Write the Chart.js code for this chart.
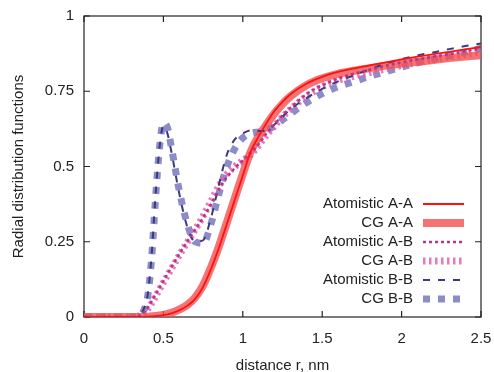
<!DOCTYPE html>
<html>
<head>
<meta charset="utf-8">
<script src="https://cdn.jsdelivr.net/npm/chart.js@4.4.1/dist/chart.umd.min.js"></script>
<style>
  body { margin: 0; background: #fff; }
</style>
</head>
<body>
<canvas id="rdf" width="494" height="372"></canvas>
<script>
// tick positions on both axes
var xTicks = [0, 0.5, 1, 1.5, 2, 2.5];
var yTicks = [0, 0.25, 0.5, 0.75, 1];

// distance grid for A-A and A-B pairs (nm)
var rA = [0, 0.1, 0.2, 0.3, 0.35, 0.4, 0.45, 0.5, 0.55, 0.6, 0.65, 0.7, 0.75, 0.8, 0.85, 0.9, 0.95, 1.0,
          1.05, 1.1, 1.15, 1.2, 1.25, 1.3, 1.4, 1.5, 1.6, 1.7, 1.8, 1.9, 2.0, 2.1, 2.2, 2.3, 2.4, 2.5];
var atomAA = [0, 0, 0, 0, 0, 0.001, 0.003, 0.006, 0.012, 0.022, 0.037, 0.06, 0.1, 0.16, 0.23, 0.31, 0.39, 0.47,
              0.55, 0.6, 0.645, 0.685, 0.715, 0.74, 0.775, 0.798, 0.814, 0.826, 0.836, 0.846, 0.856, 0.865, 0.873, 0.881, 0.889, 0.897];
var cgAA = [0, 0, 0, 0, 0, 0.001, 0.003, 0.007, 0.014, 0.025, 0.04, 0.065, 0.105, 0.165, 0.235, 0.315, 0.395, 0.475,
            0.55, 0.6, 0.64, 0.677, 0.708, 0.733, 0.77, 0.793, 0.808, 0.818, 0.827, 0.835, 0.842, 0.848, 0.854, 0.86, 0.865, 0.87];
var atomAB = [0, 0, 0, 0, 0.005, 0.03, 0.075, 0.12, 0.165, 0.21, 0.25, 0.29, 0.33, 0.375, 0.425, 0.465, 0.495, 0.52,
              0.545, 0.575, 0.61, 0.64, 0.67, 0.695, 0.74, 0.77, 0.792, 0.808, 0.822, 0.835, 0.846, 0.856, 0.865, 0.874, 0.883, 0.892];
var cgAB = [0, 0, 0, 0, 0.004, 0.025, 0.068, 0.115, 0.16, 0.205, 0.248, 0.29, 0.335, 0.385, 0.435, 0.475, 0.5, 0.52,
            0.54, 0.57, 0.605, 0.635, 0.665, 0.69, 0.733, 0.765, 0.786, 0.8, 0.812, 0.824, 0.835, 0.845, 0.855, 0.864, 0.872, 0.88];

// finer grid for B-B around the first peak
var rB = [0, 0.1, 0.2, 0.3, 0.35, 0.375, 0.4, 0.425, 0.45, 0.475, 0.5, 0.525, 0.55, 0.6, 0.65, 0.7, 0.75, 0.8, 0.85,
          0.9, 0.95, 1.0, 1.05, 1.1, 1.15, 1.2, 1.3, 1.4, 1.5, 1.6, 1.7, 1.8, 1.9, 2.0, 2.1, 2.2, 2.3, 2.4, 2.5];
var atomBB = [0, 0, 0, 0, 0.005, 0.025, 0.07, 0.2, 0.4, 0.56, 0.635, 0.61, 0.55, 0.41, 0.3, 0.25, 0.255, 0.33, 0.44,
              0.54, 0.59, 0.61, 0.62, 0.618, 0.62, 0.64, 0.69, 0.727, 0.758, 0.783, 0.803, 0.823, 0.842, 0.857, 0.869, 0.879, 0.89, 0.9, 0.909];
var cgBB = [0, 0, 0, 0, 0.004, 0.02, 0.065, 0.19, 0.39, 0.56, 0.645, 0.63, 0.565, 0.42, 0.31, 0.25, 0.245, 0.31, 0.41,
            0.5, 0.56, 0.595, 0.61, 0.615, 0.62, 0.635, 0.675, 0.712, 0.742, 0.765, 0.782, 0.8, 0.815, 0.83, 0.845, 0.857, 0.868, 0.88, 0.893];

var FONT = "'Liberation Sans', Arial, Helvetica, sans-serif";

function pts(xs, ys) {
    return xs.map(function (x, i) { return {x: x, y: ys[i]}; });
}

function series(label, xs, ys, color, width, dash, order) {
    return {
        label: label,
        data: pts(xs, ys),
        borderColor: color,
        borderWidth: width,
        borderDash: dash,
        pointRadius: 0,
        fill: false,
        cubicInterpolationMode: 'monotone',
        order: order
    };
}

// box round the plot with inward ticks on all four sides
var framePlugin = {
    id: 'frame',
    beforeDatasetsDraw: function (chart) {
        var c = chart.ctx, a = chart.chartArea;
        var xs = chart.scales.x, ys = chart.scales.y;
        var len = 6;
        c.save();
        c.strokeStyle = '#222';
        c.lineWidth = 1.2;
        c.strokeRect(a.left, a.top, a.right - a.left, a.bottom - a.top);
        c.beginPath();
        xTicks.forEach(function (v) {
            var px = xs.getPixelForValue(v);
            c.moveTo(px, a.bottom); c.lineTo(px, a.bottom - len);
            c.moveTo(px, a.top); c.lineTo(px, a.top + len);
        });
        yTicks.forEach(function (v) {
            var py = ys.getPixelForValue(v);
            c.moveTo(a.left, py); c.lineTo(a.left + len, py);
            c.moveTo(a.right, py); c.lineTo(a.right - len, py);
        });
        c.stroke();
        c.restore();
    }
};

// key in the lower right corner, label then line sample
var keyPlugin = {
    id: 'key',
    afterDraw: function (chart) {
        var c = chart.ctx, a = chart.chartArea;
        var textRight = a.right - 68, x0 = a.right - 58, x1 = a.right - 17;
        var y = a.bottom - 113, step = 19;
        c.save();
        c.font = '15px ' + FONT;
        c.textAlign = 'right';
        c.textBaseline = 'middle';
        chart.data.datasets.forEach(function (ds, i) {
            var yy = y + i * step;
            c.fillStyle = '#222';
            c.fillText(ds.label, textRight, yy);
            c.strokeStyle = ds.borderColor;
            c.lineWidth = ds.borderWidth;
            c.setLineDash(ds.borderDash || []);
            c.lineCap = 'butt';
            c.beginPath();
            c.moveTo(x0, yy);
            c.lineTo(x1, yy);
            c.stroke();
        });
        c.restore();
    }
};

function plainLabel(v) {
    return String(v);
}

var ctx = document.getElementById('rdf');

var rdfChart = new Chart(ctx, {
    type: 'line',
    data: {
        datasets: [
            series('Atomistic A-A', rA, atomAA, '#ff1010', 1.8, [], 0),
            series('CG A-A', rA, cgAA, 'rgba(242,80,80,0.8)', 8, [], 1),
            series('Atomistic A-B', rA, atomAB, '#b8348a', 2.5, [3, 3], 0),
            series('CG A-B', rA, cgAB, 'rgba(222,100,178,0.85)', 7, [2.5, 3.5], 1),
            series('Atomistic B-B', rB, atomBB, '#3a3a7c', 2, [7, 8], 0),
            series('CG B-B', rB, cgBB, 'rgba(120,120,190,0.85)', 7, [7, 8], 1)
        ]
    },
    options: {
        responsive: false,
        animation: false,
        devicePixelRatio: 1,
        layout: { padding: { top: 16, right: 13, left: 0, bottom: 0 } },
        plugins: {
            legend: { display: false },
            tooltip: { enabled: false }
        },
        scales: {
            x: {
                type: 'linear',
                min: 0,
                max: 2.5,
                afterBuildTicks: function (scale) {
                    scale.ticks = xTicks.map(function (v) { return {value: v}; });
                },
                afterFit: function (scale) {
                    scale.height = 55;
                    scale.paddingLeft = 0;
                    scale.paddingRight = 0;
                },
                grid: { display: false, drawTicks: false },
                border: { display: false },
                ticks: {
                    padding: 13,
                    maxRotation: 0,
                    color: '#222',
                    callback: plainLabel,
                    font: { family: FONT, size: 15 }
                },
                title: {
                    display: true,
                    text: 'distance r, nm',
                    color: '#222',
                    padding: { top: 0, bottom: -3 },
                    font: { family: FONT, size: 15 }
                }
            },
            y: {
                min: 0,
                max: 1,
                afterBuildTicks: function (scale) {
                    scale.ticks = yTicks.map(function (v) { return {value: v}; });
                },
                afterFit: function (scale) {
                    scale.width = 84;
                    scale.paddingTop = 0;
                    scale.paddingBottom = 0;
                },
                grid: { display: false, drawTicks: false },
                border: { display: false },
                ticks: {
                    padding: 10,
                    color: '#222',
                    callback: plainLabel,
                    font: { family: FONT, size: 15 }
                },
                title: {
                    display: true,
                    text: 'Radial distribution functions',
                    color: '#222',
                    padding: { top: 10, bottom: 0 },
                    font: { family: FONT, size: 15 }
                }
            }
        }
    },
    plugins: [framePlugin, keyPlugin]
});
</script>
</body>
</html>
